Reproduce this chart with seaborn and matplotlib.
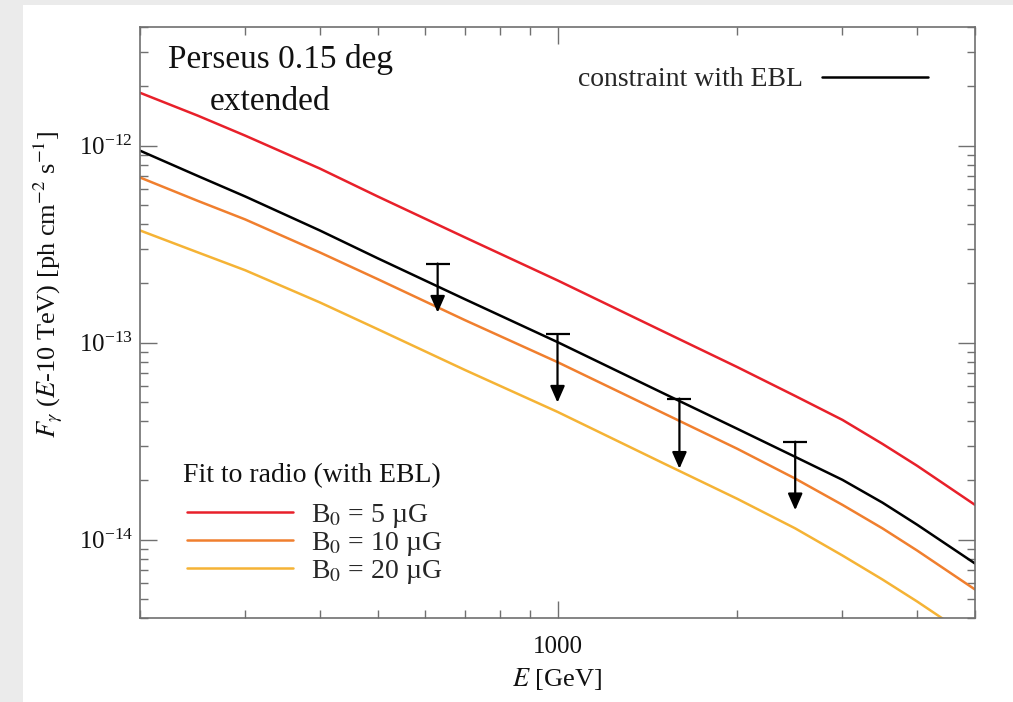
import numpy as np
import pandas as pd
import matplotlib
matplotlib.use("Agg")
import matplotlib.pyplot as plt
import seaborn as sns
from matplotlib.lines import Line2D
from matplotlib.patches import Rectangle
from matplotlib.ticker import (FuncFormatter, NullFormatter, LogLocator,
                               FixedLocator, LogFormatterSciNotation)

# Energy grid [GeV] and integral gamma-ray flux F(E-10 TeV) [ph cm^-2 s^-1]
energy = [200, 250, 300, 400, 500, 700, 1000, 1500, 2000, 2500, 3000, 3500, 4000, 5000]
flux_b5 = [1.855e-12, 1.419e-12, 1.124e-12, 7.65e-13, 5.52e-13, 3.42e-13, 2.07e-13,
           1.143e-13, 7.51e-14, 5.36e-14, 4.05e-14, 3.06e-14, 2.37e-14, 1.50e-14]
flux_b10 = [6.89e-13, 5.24e-13, 4.22e-13, 2.87e-13, 2.10e-13, 1.30e-13, 7.96e-14,
            4.40e-14, 2.89e-14, 2.04e-14, 1.50e-14, 1.14e-14, 8.80e-15, 5.58e-15]
flux_b20 = [3.71e-13, 2.87e-13, 2.33e-13, 1.60e-13, 1.17e-13, 7.26e-14, 4.45e-14,
            2.45e-14, 1.61e-14, 1.14e-14, 8.30e-15, 6.27e-15, 4.85e-15, 3.08e-15]
flux_constraint = [9.43e-13, 7.01e-13, 5.52e-13, 3.71e-13, 2.68e-13, 1.66e-13, 1.006e-13,
                   5.55e-14, 3.65e-14, 2.63e-14, 2.01e-14, 1.54e-14, 1.19e-14, 7.56e-15]

# Upper limits: energy, limit value and arrow end
ul_energy = [630, 1000, 1600, 2500]
ul_flux = [2.52e-13, 1.10e-13, 5.2e-14, 3.14e-14]
ul_arrow_end = [1.42e-13, 4.96e-14, 2.29e-14, 1.41e-14]

# Axis ticks
x_major_ticks = [1000]
y_major_ticks = [1e-14, 1e-13, 1e-12]

model_labels = ["B$_0$ = 5 µG", "B$_0$ = 10 µG", "B$_0$ = 20 µG"]
model_colors = ["#e8202a", "#f07f2e", "#f5b335"]
model_title = "Fit to radio (with EBL)"
constraint_label = "constraint with EBL"

sns.set_theme(style="ticks")
plt.rcParams["font.family"] = ["Liberation Serif", "DejaVu Serif"]
plt.rcParams["mathtext.fontset"] = "stix"
plt.rcParams["axes.unicode_minus"] = False

fig = plt.figure(figsize=(10.13, 7.02), dpi=100)
fig.patch.set_facecolor("#ebebeb")
fig.add_artist(Rectangle((23 / 1013, 0), 1, 1 - 5 / 702, transform=fig.transFigure,
                         facecolor="white", edgecolor="none", zorder=0))
ax = fig.add_axes([0.1382, 0.1197, 0.8243, 0.8418])
ax.set_xscale("log")
ax.set_yscale("log")

n = len(energy)
df = pd.DataFrame({
    "E": energy * 3,
    "flux": flux_b5 + flux_b10 + flux_b20,
    "model": [model_labels[0]] * n + [model_labels[1]] * n + [model_labels[2]] * n,
})
sns.lineplot(data=df, x="E", y="flux", hue="model", hue_order=model_labels,
             palette=model_colors, linewidth=1.8, legend=False, ax=ax)
sns.lineplot(x=energy, y=flux_constraint, color="black", linewidth=1.8, ax=ax)

# Upper limits: horizontal cap plus downward arrow
sns.scatterplot(x=ul_energy, y=ul_flux, marker="_", s=300, color="black",
                linewidth=1.6, ax=ax, zorder=5)
for e, top, end in zip(ul_energy, ul_flux, ul_arrow_end):
    ax.annotate("", xy=(e, end), xytext=(e, top),
                arrowprops=dict(arrowstyle="-|>,head_length=0.5,head_width=0.22",
                                color="black", lw=1.6, shrinkA=0, shrinkB=0,
                                mutation_scale=20))

ax.set_xlim(200, 5000)
ax.set_ylim(4e-15, 4e-12)

axis_grey = "#707070"
for sp in ax.spines.values():
    sp.set_color(axis_grey)
    sp.set_linewidth(1.2)
ax.tick_params(which="both", direction="in", top=True, right=True,
               color=axis_grey, labelcolor="#111111", width=1.0)
ax.tick_params(which="major", length=12, labelsize=18)
ax.tick_params(which="minor", length=5.5)
ax.tick_params(axis="y", which="major", pad=5)
ax.tick_params(axis="x", which="major", pad=13)
ax.xaxis.set_major_locator(FixedLocator(x_major_ticks))
ax.xaxis.set_major_formatter(FuncFormatter(lambda v, _: f"{v:.0f}"))
ax.xaxis.set_minor_locator(LogLocator(base=10, subs=np.arange(2, 10)))
ax.xaxis.set_minor_formatter(NullFormatter())
ax.yaxis.set_major_locator(FixedLocator(y_major_ticks))
ax.yaxis.set_major_formatter(LogFormatterSciNotation())
ax.yaxis.set_minor_locator(LogLocator(base=10, subs=np.arange(2, 10)))
ax.yaxis.set_minor_formatter(NullFormatter())

ax.set_xlabel("$E$ [GeV]", fontsize=19, color="#111111", labelpad=6)
ax.set_ylabel(r"$F_\gamma$ ($E$-10 TeV) [ph cm$^{-2}$ s$^{-1}$]", fontsize=19,
              color="#111111")
ax.yaxis.set_label_coords(-0.09, 0.5635)

ax.text(0.1677, 0.9306, "Perseus 0.15 deg", transform=ax.transAxes,
        ha="center", va="baseline", fontsize=24, color="#111111")
ax.text(0.1557, 0.8596, "extended", transform=ax.transAxes,
        ha="center", va="baseline", fontsize=24, color="#111111")

h_constraint = Line2D([], [], color="black", lw=1.8)
leg1 = ax.legend([h_constraint], [constraint_label], loc="upper right",
                 bbox_to_anchor=(0.9437, 0.9323), markerfirst=False, frameon=False,
                 fontsize=20, handlelength=3.8, handletextpad=0.7, borderpad=0,
                 borderaxespad=0)
ax.add_artist(leg1)

ax.text(0.0515, 0.2301, model_title, transform=ax.transAxes, ha="left",
        va="baseline", fontsize=20, color="#111111")
model_handles = [Line2D([], [], color=c, lw=1.8) for c in model_colors]
ax.legend(model_handles, model_labels, fontsize=20, loc="upper left",
          bbox_to_anchor=(0.0563, 0.1962), frameon=False,
          handlelength=3.8, handletextpad=0.68, labelspacing=0.0,
          borderpad=0, borderaxespad=0)

fig.savefig("out.png", dpi=100)
